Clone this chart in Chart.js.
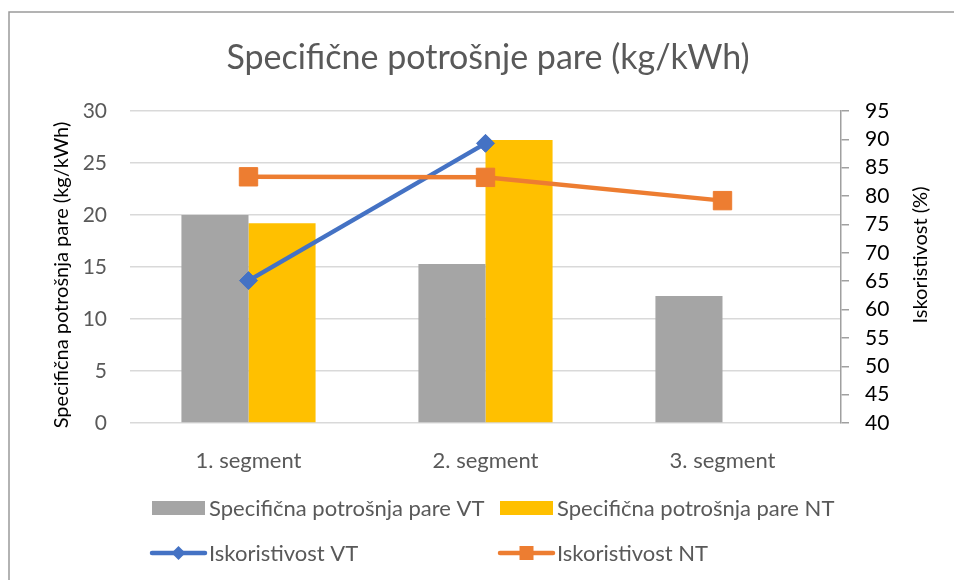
<!DOCTYPE html>
<html>
<head>
<meta charset="utf-8">
<title>Specifične potrošnje pare</title>
<script src="https://cdn.jsdelivr.net/npm/chart.js@4/dist/chart.umd.min.js"></script>
<style>
  html, body { margin: 0; padding: 0; background: #ffffff; }
  #wrap { width: 954px; height: 580px; position: relative; }
</style>
</head>
<body>
<div id="wrap"><canvas id="c" width="954" height="580"></canvas></div>
<script>
// Categories and series
const categories = ['1. segment', '2. segment', '3. segment'];
const potrosnjaVT = [20.0, 15.3, 12.2];      // kg/kWh
const potrosnjaNT = [19.2, 27.2, null];      // kg/kWh
const iskoristivostVT = [65.1, 89.3, null];  // %
const iskoristivostNT = [83.4, 83.3, 79.2];  // %

const chartTitle = 'Specifične potrošnje pare (kg/kWh)';
const leftAxisTitle = 'Specifična potrošnja pare (kg/kWh)';
const rightAxisTitle = 'Iskoristivost (%)';

const FONT = 'Lato, "Open Sans", sans-serif';

// Frame, titles and a two-column legend drawn onto the canvas
const decorations = {
  id: 'decorations',
  afterDraw(chart) {
    const ctx = chart.ctx;
    ctx.save();
    // outer frame (top and left edges)
    ctx.strokeStyle = '#9a9a9a';
    ctx.lineWidth = 1.5;
    ctx.beginPath();
    ctx.moveTo(9, 580);
    ctx.lineTo(9, 12);
    ctx.lineTo(954, 12);
    ctx.stroke();

    // main title
    ctx.fillStyle = '#595959';
    ctx.font = '34px ' + FONT;
    ctx.textAlign = 'center';
    ctx.textBaseline = 'middle';
    ctx.fillText(chartTitle, 488, 58);

    // axis titles, both reading bottom to top
    ctx.fillStyle = '#000000';
    ctx.font = '20px ' + FONT;
    ctx.save();
    ctx.translate(62, 275);
    ctx.rotate(-Math.PI / 2);
    ctx.fillText(leftAxisTitle, 0, 0);
    ctx.restore();
    ctx.save();
    ctx.translate(921, 255);
    ctx.rotate(-Math.PI / 2);
    ctx.fillText(rightAxisTitle, 0, 0);
    ctx.restore();

    // legend
    const cols = [152, 500];
    const rows = [508, 553];
    ctx.font = '22px ' + FONT;
    ctx.textAlign = 'left';
    ctx.textBaseline = 'middle';
    chart.data.datasets.forEach((ds, k) => {
      const x = cols[k % 2];
      const y = rows[Math.floor(k / 2)];
      if (ds.type === 'bar') {
        ctx.fillStyle = ds.backgroundColor;
        ctx.fillRect(x, y - 7, 53, 14);
      } else {
        ctx.strokeStyle = ds.borderColor;
        ctx.lineWidth = 4.5;
        ctx.lineCap = 'round';
        ctx.beginPath();
        ctx.moveTo(x, y);
        ctx.lineTo(x + 53, y);
        ctx.stroke();
        ctx.fillStyle = ds.borderColor;
        const cx = x + 26.5;
        if (ds.pointStyle === 'rectRot') {
          ctx.beginPath();
          ctx.moveTo(cx, y - 7);
          ctx.lineTo(cx + 7, y);
          ctx.lineTo(cx, y + 7);
          ctx.lineTo(cx - 7, y);
          ctx.closePath();
          ctx.fill();
        } else {
          ctx.fillRect(cx - 7, y - 7, 14, 14);
        }
      }
      ctx.fillStyle = '#595959';
      ctx.fillText(ds.label, x + 57, y + 1);
    });
    ctx.restore();
  }
};

new Chart(document.getElementById('c'), {
  data: {
    labels: categories,
    datasets: [
      {
        type: 'bar',
        label: 'Specifična potrošnja pare VT',
        data: potrosnjaVT,
        backgroundColor: '#A5A5A5',
        yAxisID: 'y',
        order: 2,
        categoryPercentage: 0.566,
        barPercentage: 1.0
      },
      {
        type: 'bar',
        label: 'Specifična potrošnja pare NT',
        data: potrosnjaNT,
        backgroundColor: '#FFC000',
        yAxisID: 'y',
        order: 2,
        categoryPercentage: 0.566,
        barPercentage: 1.0
      },
      {
        type: 'line',
        label: 'Iskoristivost VT',
        data: iskoristivostVT,
        borderColor: '#4472C4',
        backgroundColor: '#4472C4',
        borderWidth: 4.5,
        pointStyle: 'rectRot',
        pointRadius: 9,
        pointBorderWidth: 1,
        yAxisID: 'y1',
        order: 1,
        tension: 0
      },
      {
        type: 'line',
        label: 'Iskoristivost NT',
        data: iskoristivostNT,
        borderColor: '#ED7D31',
        backgroundColor: '#ED7D31',
        borderWidth: 4.5,
        pointStyle: 'rect',
        pointRadius: 13,
        pointBorderWidth: 1,
        yAxisID: 'y1',
        order: 0,
        tension: 0
      }
    ]
  },
  options: {
    responsive: false,
    animation: false,
    devicePixelRatio: 1,
    layout: { padding: { left: 0, right: 0, top: 111, bottom: 107 } },
    plugins: {
      legend: { display: false },
      title: { display: false },
      tooltip: { enabled: false }
    },
    scales: {
      x: {
        grid: { display: false },
        border: { display: false },
        ticks: { color: '#595959', font: { family: FONT, size: 22 }, padding: 17 },
        afterFit(scale) { scale.height = 50; }
      },
      y: {
        position: 'left',
        min: 0,
        max: 30,
        ticks: { stepSize: 5, color: '#595959', font: { family: FONT, size: 21 }, padding: 23 },
        grid: { color: '#d9d9d9', lineWidth: 1.5, drawTicks: false },
        border: { display: false },
        afterFit(scale) { scale.width = 130; }
      },
      y1: {
        position: 'right',
        min: 40,
        max: 95,
        ticks: { stepSize: 5, color: '#000000', font: { family: FONT, size: 21 }, padding: 16 },
        grid: { drawOnChartArea: false, color: '#a0a0a0', tickColor: '#a0a0a0', tickLength: 8, lineWidth: 1.5 },
        border: { display: true, color: '#a0a0a0', width: 1.5 },
        afterFit(scale) { scale.width = 113; }
      }
    }
  },
  plugins: [decorations]
});
</script>
</body>
</html>
